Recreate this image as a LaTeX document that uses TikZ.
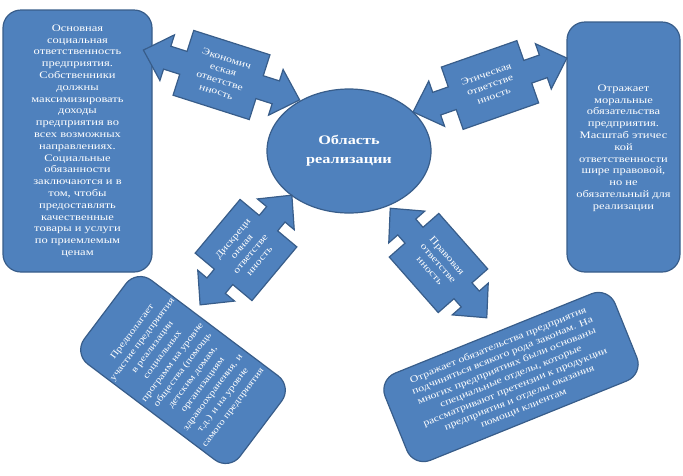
\documentclass[tikz,border=0pt]{standalone}
\usepackage{fontspec}
\setmainfont{Liberation Serif}[FakeStretch=1.25]
\usetikzlibrary{shapes.geometric}
\definecolor{cfill}{HTML}{4F81BD}
\definecolor{cedge}{HTML}{385D8A}
\tikzset{
  every picture/.style={line width=1.2pt},
  infobox/.style={draw=cedge, fill=cfill, rounded corners=18pt, text=white, align=center, inner sep=2pt,
    font=\fontsize{10}{11.8}\selectfont},
  armshape/.style={draw=cedge, fill=cfill, line join=miter},
  armlabel/.style={text=white, align=center, inner sep=1pt, font=\fontsize{9.5}{11.5}\selectfont},
}
% double block arrow: centre, angle, half length, body half length, body half width, name, text
\newcommand\twoway[7]{%
  \begin{scope}[shift={#1}, rotate=#2]
    \draw[armshape] (-#3,0) -- (-#3+25,24) -- (-#3+25,12) -- (-#4,12) -- (-#4,#5) -- (#4,#5) -- (#4,12)
      -- (#3-25,12) -- (#3-25,24) -- (#3,0) -- (#3-25,-24) -- (#3-25,-12) -- (#4,-12) -- (#4,-#5)
      -- (-#4,-#5) -- (-#4,-12) -- (-#3+25,-12) -- (-#3+25,-24) -- cycle;
  \end{scope}
  \node[armlabel, rotate=#2] (#6) at #1 {#7};}

\begin{document}
\begin{tikzpicture}[x=1pt, y=-1pt]
  \useasboundingbox (0,0) rectangle (683,475);

  % boxes
  \node[infobox, minimum width=149pt, minimum height=262pt] (ecoBox) at (77.5,141)
    {Основная\\социальная\\ответственность\\предприятия.\\Собственники\\должны\\максимизировать\\доходы\\предприятия во\\всех возможных\\направлениях.\\Социальные\\обязанности\\заключаются и в\\том, чтобы\\предоставлять\\качественные\\товары и услуги\\по приемлемым\\ценам};
  \node[infobox, minimum width=113pt, minimum height=250pt, text depth=-18pt] (ethBox) at (623.5,147)
    {Отражает\\моральные\\обязательства\\предприятия.\\Масштаб этичес\\кой\\ответственности\\шире правовой,\\но не\\обязательный для\\реализации};
  \node[infobox, minimum width=98pt, minimum height=195pt, rotate=53, font=\fontsize{9}{12.6}\selectfont] (discBox) at (183,370)
    {Предполагает\\участие предприятия\\в реализации\\социальных\\программ на уровне\\общества (помощь\\детским домам,\\организациям\\здравоохранения, и\\т.д.) и на уровне\\самого предприятия};
  \node[infobox, minimum width=248pt, minimum height=94pt, rotate=22, font=\fontsize{9.5}{11.3}\selectfont] (lawBox) at (511,377)
    {Отражает обязательства предприятия\\подчиняться всякого рода законам. На\\многих предприятиях были основаны\\специальные отделы, которые\\рассматривают претензии к продукции\\предприятия и отделы оказания\\помощи клиентам};

  \node[ellipse, draw=cedge, fill=cfill, text=white, align=center, minimum width=164pt, minimum height=124pt,
    font=\bfseries\fontsize{13}{19}\selectfont] (scope) at (349,151) {Область\\реализации};

  % arrows
  \twoway{(221.5,75)}{-17.7}{82}{40}{34}{ecoArm}{Экономич\\еская\\ответстве\\нность}
  \twoway{(490,85)}{19.3}{81.5}{40}{33}{ethArm}{Этическая\\ответстве\\нность}
  \twoway{(246,250)}{50.1}{71.5}{35}{37}{discArm}{Дискреци\\онная\\ответстве\\нность}
  \twoway{(438.5,263)}{-48.6}{73}{37}{33}{lawArm}{Правовая\\ответстве\\нность}
\end{tikzpicture}
\end{document}
